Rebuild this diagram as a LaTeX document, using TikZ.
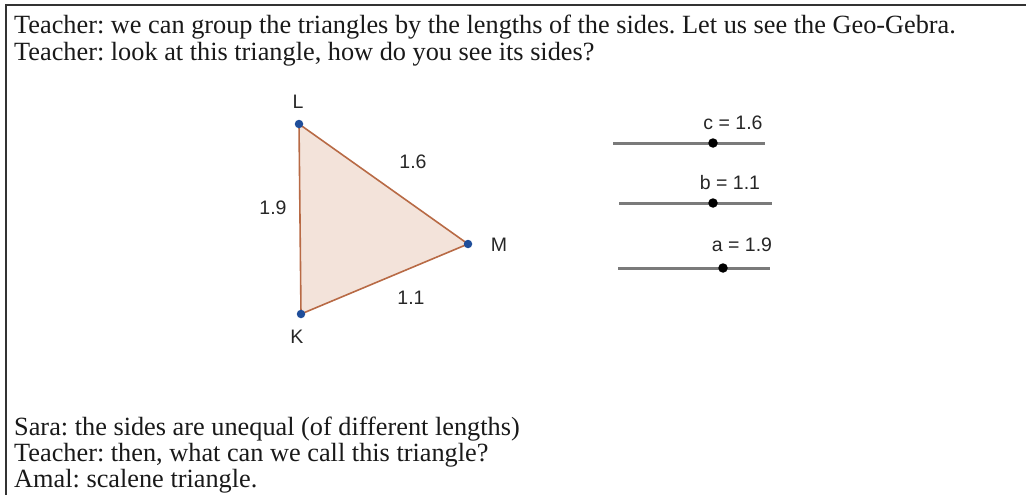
\documentclass[tikz,border=0pt]{standalone}
\usepackage{fontspec}
\setmainfont{Liberation Serif}
\newfontfamily\geofont{Liberation Sans}
\frenchspacing
\definecolor{frame}{HTML}{333333}
\definecolor{trifill}{HTML}{F3E3DA}
\definecolor{triedge}{HTML}{B86A45}
\definecolor{ptblue}{HTML}{1F4E9A}
\definecolor{slider}{HTML}{7A7A7A}
\tikzset{
  talk/.style={anchor=base west, inner sep=0pt, font=\fontsize{26.3}{30}\selectfont, text=black!90},
  geolab/.style={inner sep=0pt, font=\geofont\fontsize{19.5}{22}\selectfont, text=black!85},
  ptdot/.style={circle, fill=ptblue, inner sep=0pt, minimum size=8.5pt},
  knob/.style={circle, fill=black, inner sep=0pt, minimum size=9.5pt},
  sliderline/.style={draw=slider, line width=3pt},
  edge/.style={draw=triedge, line width=1.6pt}
}
\begin{document}
\begin{tikzpicture}[x=1pt,y=-1pt]
\useasboundingbox (0,0) rectangle (1026,495);
% frame
\coordinate (tl) at (6,5);
\coordinate (tr) at (1026,5);
\coordinate (bl) at (6,495);
\draw[frame, line width=2.2pt] (tr) -- (tl) -- (bl);
% dialogue
\node[talk] (t1) at (14,34) {Teacher: we can group the triangles by the lengths of the sides. Let us see the Geo-Gebra.};
\node[talk] (t2) at (14,61) {Teacher: look at this triangle, how do you see its sides?};
\node[talk] (t3) at (14,435) {Sara: the sides are unequal (of different lengths)};
\node[talk] (t4) at (14,461) {Teacher: then, what can we call this triangle?};
\node[talk] (t5) at (14,487) {Amal: scalene triangle.};
% triangle
\coordinate (L) at (299,124);
\coordinate (M) at (468,244);
\coordinate (K) at (301,314);
\fill[trifill] (L) -- (M) -- (K) -- cycle;
\draw[edge] (L) -- (M);
\draw[edge] (M) -- (K);
\draw[edge] (K) -- (L);
\node[ptdot] (pL) at (L) {};
\node[ptdot] (pM) at (M) {};
\node[ptdot] (pK) at (K) {};
\node[geolab] (lL) at (298,102) {L};
\node[geolab] (lM) at (499,245) {M};
\node[geolab] (lK) at (297,337) {K};
\node[geolab] (s16) at (413,162) {1.6};
\node[geolab] (s19) at (273,208) {1.9};
\node[geolab] (s11) at (411,298) {1.1};
% sliders
\coordinate (c0) at (613,143); \coordinate (c1) at (765,143);
\coordinate (b0) at (619,203); \coordinate (b1) at (772,203);
\coordinate (a0) at (618,268); \coordinate (a1) at (770,268);
\draw[sliderline] (c0) -- (c1);
\draw[sliderline] (b0) -- (b1);
\draw[sliderline] (a0) -- (a1);
\node[knob] (kc) at (713,143) {};
\node[knob] (kb) at (713,203) {};
\node[knob] (ka) at (723,268) {};
\node[geolab] (vc) at (733,123) {c = 1.6};
\node[geolab] (vb) at (730,183) {b = 1.1};
\node[geolab] (va) at (742,245) {a = 1.9};
\end{tikzpicture}
\end{document}
